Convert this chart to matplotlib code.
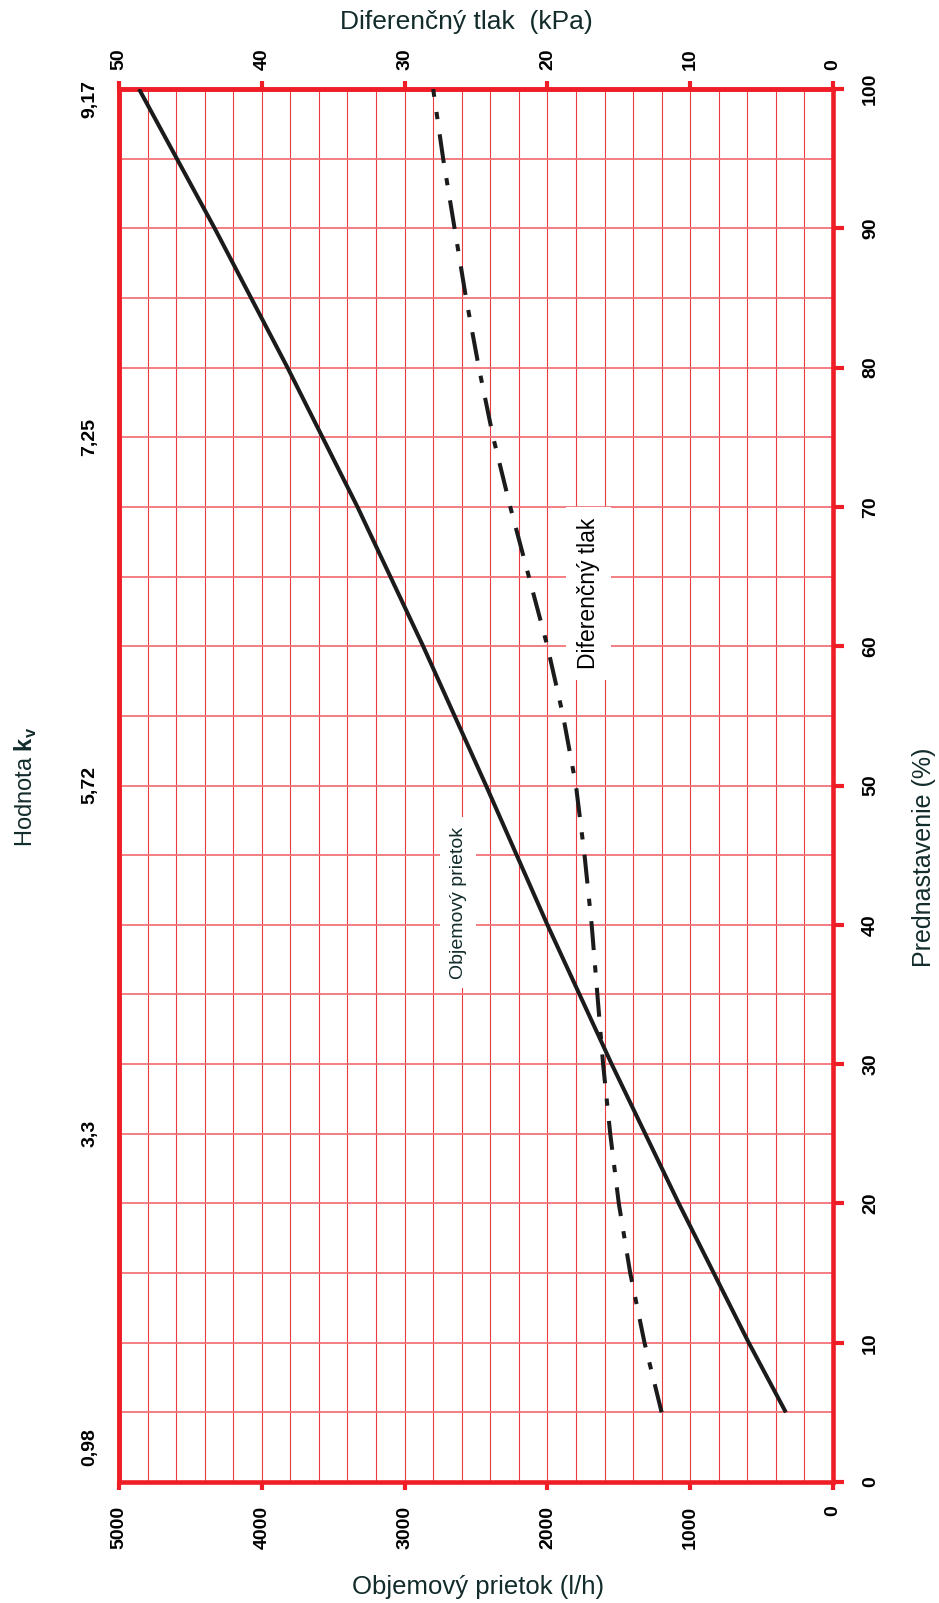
import numpy as np
import matplotlib
matplotlib.use('Agg')
import matplotlib.pyplot as plt

plt.rcParams['font.family'] = ['Liberation Sans', 'DejaVu Sans']
plt.rcParams['mathtext.fontset'] = 'custom'
plt.rcParams['mathtext.rm'] = 'Liberation Sans'
plt.rcParams['mathtext.bf'] = 'Liberation Sans:bold'

# Data
pct_flow = [5, 10, 20, 30, 40, 50, 60, 70, 80, 90, 100]
flow = [330, 590, 1080, 1550, 2000, 2430, 2870, 3330, 3820, 4330, 4860]

pct_dp = [5, 10, 15, 20, 25, 30, 35, 40, 45, 50, 55, 60, 65, 70, 75, 80, 85, 90, 95, 100]
dp_kpa = [12.0, 13.2, 14.2, 15.0, 15.6, 16.1, 16.5, 16.9, 17.4, 18.0,
          18.9, 20.0, 21.3, 22.6, 23.8, 24.8, 25.7, 26.5, 27.3, 28.0]

flow_ticks = [0, 1000, 2000, 3000, 4000, 5000]
dp_ticks = [0, 10, 20, 30, 40, 50]
pct_ticks = [0, 10, 20, 30, 40, 50, 60, 70, 80, 90, 100]
kv_pos = [2.5, 25, 50, 75, 99.3]
kv_labels = ['0,98', '3,3', '5,72', '7,25', '9,17']

red = '#ee1d26'
txt = '#122b2b'

W, H = 939, 1603
fig = plt.figure(figsize=(W/100, H/100), dpi=100)
ax = fig.add_axes([119/W, 1-1482/H, 714/W, 1393/H])
ax.set_xlim(5000, 0)
ax.set_ylim(0, 100)

# grid
ax.set_xticks(flow_ticks)
ax.set_xticks(np.arange(0, 5001, 200), minor=True)
ax.set_yticks(pct_ticks)
ax.set_yticks(np.arange(0, 101, 5), minor=True)
ax.grid(axis='x', which='both', color='#ec3a41', lw=0.8, zorder=1)
ax.grid(axis='y', which='both', color='#f27378', lw=1.3, zorder=1)
ax.set_axisbelow(True)

for s in ax.spines.values():
    s.set_color(red); s.set_linewidth(3.3)

ax.yaxis.tick_right()
ax.tick_params(which='minor', length=0)
ax.tick_params(axis='x', which='major', direction='out', length=6, width=3,
               color=red, pad=11, labelrotation=90, labelsize=14)
ax.tick_params(axis='y', which='major', direction='out', length=8, width=3,
               color=red, pad=13, labelrotation=90, labelsize=14)
ax.set_xticklabels([str(v) for v in flow_ticks], fontweight='bold')
ax.set_yticklabels([str(v) for v in pct_ticks], fontweight='bold', va='center')

# top axis: differential pressure
secx = ax.secondary_xaxis('top', functions=(lambda f: np.asarray(f) / 100.0,
                                            lambda p: np.asarray(p) * 100.0))
secx.set_xticks(dp_ticks)
secx.set_xticklabels([str(v) for v in dp_ticks], fontweight='bold')
secx.tick_params(direction='out', length=6, width=3, color=red, pad=8,
                 labelrotation=90, labelsize=14)
secx.spines['top'].set_color(red); secx.spines['top'].set_linewidth(3.3)

# left axis: kv values
secy = ax.secondary_yaxis('left')
secy.set_yticks(kv_pos)
secy.set_yticklabels(kv_labels, fontweight='bold', va='center')
secy.tick_params(length=0, pad=15, labelrotation=90, labelsize=14)
secy.spines['left'].set_color(red); secy.spines['left'].set_linewidth(3.3)

# curves
ax.plot(flow, pct_flow, color='#1b1b1b', lw=2.9, solid_capstyle='butt',
        solid_joinstyle='round', zorder=5)
ax.plot(np.array(dp_kpa) * 100, pct_dp, color='#1b1b1b', lw=2.9,
        ls=(0, (7.2, 3.8, 1.8, 3.8)), dash_capstyle='butt', zorder=5)

# in-chart labels
ax.text(1709, 63.8, 'Diferenčný tlak', rotation=90, ha='center', va='center',
        fontsize=16.5, color='black', zorder=4,
        bbox=dict(facecolor='white', edgecolor='none', pad=8))
ax.text(2626, 41.6, 'Objemový prietok', rotation=90, ha='center', va='center',
        fontsize=14, color=txt, zorder=4,
        bbox=dict(facecolor='white', edgecolor='none', pad=7))

# axis titles
fig.text(466/W, 1-22/H, 'Diferenčný tlak  (kPa)', ha='center', va='center',
         fontsize=19, color=txt)
fig.text(478/W, 1-1587/H, 'Objemový prietok (l/h)', ha='center', va='center',
         fontsize=18.5, color=txt)
fig.text(924/W, 1-857/H, 'Prednastavenie (%)', ha='center', va='center',
         rotation=90, fontsize=18, color=txt)
fig.text(26/W, 1-787/H, r'Hodnota $\mathbf{k}_\mathbf{v}$', ha='center', va='center',
         rotation=90, fontsize=17, color=txt)

fig.savefig('out.png', dpi=100)
